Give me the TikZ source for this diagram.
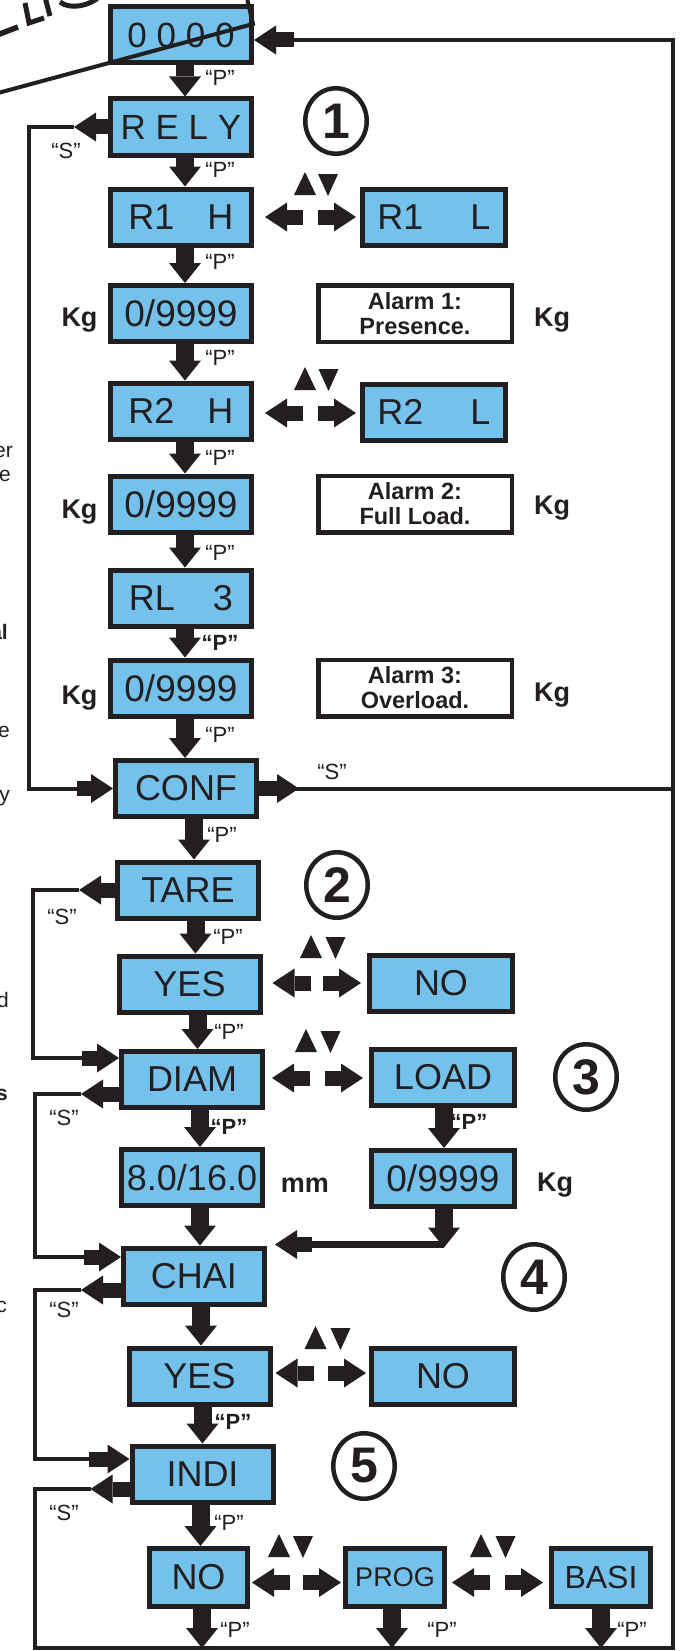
\documentclass[tikz,border=0pt]{standalone}
\usepackage{fontspec}
\setmainfont{Liberation Sans}
\usetikzlibrary{arrows.meta,calc,shapes.geometric}
\definecolor{lcd}{HTML}{74C2EC}
\definecolor{ink}{HTML}{231F20}
\newcommand\boxfont{\fontsize{36pt}{40pt}\selectfont}
\newcommand\plbl{\fontsize{22pt}{24pt}\selectfont}
\newcommand\darr[3][4]{\draw[varrow] ($(#2.south)+(#1,0)$) -- ($(#2.south |- #3.north)+(#1,0)$);}
\newcommand\dblarr[5]{%
  \draw[harrow] ($(#1.east)+(#3+38,#5)$) -- ($(#1.east)+(#3,#5)$);
  \draw[harrow] ($(#2.west |- #1.east)+(-#4-38,#5)$) -- ($(#2.west |- #1.east)+(-#4,#5)$);}
\newcommand\updn[3]{%
  \fill[ink] (#1-11,#3) -- (#1+11,#3) -- (#1,#3-23) -- cycle;
  \fill[ink] (#2-10,#3-21) -- (#2+10,#3-21) -- (#2,#3+1) -- cycle;}
\tikzset{
  lcdbox/.style={draw=ink, line width=5pt, fill=lcd, minimum width=141pt, minimum height=56pt, inner sep=0pt, text=ink, font=\boxfont},
  alarmbox/.style={draw=ink, line width=4.5pt, fill=white, minimum width=193.5pt, minimum height=56.5pt, inner sep=0pt, text=ink, align=center, font=\fontsize{23.5pt}{25pt}\selectfont\bfseries},
  varrow/.style={draw=ink, line width=18pt, -{Triangle[width=32pt,length=20pt,line width=0pt,fill=ink]}},
  harrow/.style={draw=ink, line width=15pt, -{Triangle[width=29pt,length=22pt,line width=0pt,fill=ink]}},
  conn/.style={draw=ink, line width=4pt},
  plabel/.style={text=ink, inner sep=0pt, font=\plbl},
  bplabel/.style={text=ink, inner sep=0pt, font=\plbl\bfseries},
  unitlbl/.style={text=ink, inner sep=0pt, font=\fontsize{27pt}{30pt}\selectfont\bfseries},
  numcirc/.style={draw=ink, ellipse, line width=4.5pt, minimum width=61.5pt, minimum height=65.5pt, inner sep=0pt, text=ink, font=\fontsize{50pt}{52pt}\selectfont\bfseries},
  frag/.style={text=ink, inner sep=0pt, font=\fontsize{21pt}{24pt}\selectfont, anchor=base east},
  bfrag/.style={frag, font=\fontsize{21pt}{24pt}\selectfont\bfseries},
}
\begin{document}
\begin{tikzpicture}[x=1pt,y=-1pt]
\useasboundingbox (0,0) rectangle (683,1651);
\clip (0,0) rectangle (683,1651);
\fill[white] (0,0) rectangle (683,1651);

% ---- boxes
\node[lcdbox, font=\fontsize{35pt}{40pt}\selectfont] (n0000) at (181,35) {0 0 0 0};
\node[lcdbox, font=\fontsize{35pt}{40pt}\selectfont] (rely) at (181,127) {R E L Y};
\node[lcdbox] (r1h) at (181,217) {R1\hspace{33pt}H};
\node[lcdbox, minimum width=143pt] (r1l) at (434,217) {R1\hspace{47pt}L};
\node[lcdbox, font=\fontsize{37pt}{40pt}\selectfont] (k1) at (181,313.5) {0/9999};
\node[alarmbox] (al1) at (415,313.5) {Alarm 1:\\Presence.};
\node[lcdbox] (r2h) at (181,411) {R2\hspace{33pt}H};
\node[lcdbox, minimum width=143pt] (r2l) at (434,412) {R2\hspace{47pt}L};
\node[lcdbox, font=\fontsize{37pt}{40pt}\selectfont] (k2) at (181,504) {0/9999};
\node[alarmbox] (al2) at (415,504) {Alarm 2:\\Full Load.};
\node[lcdbox] (rl3) at (181,598) {RL\hspace{38pt}3};
\node[lcdbox, font=\fontsize{37pt}{40pt}\selectfont] (k3) at (181,688) {0/9999};
\node[alarmbox] (al3) at (415,688) {Alarm 3:\\Overload.};
\node[lcdbox] (conf) at (186,788.5) {CONF};
\node[lcdbox] (tare) at (188,890) {TARE};
\node[lcdbox] (yes1) at (189.5,984) {YES};
\node[lcdbox, minimum width=143pt] (no1) at (441,983) {NO};
\node[lcdbox] (diam) at (192,1079.5) {DIAM};
\node[lcdbox, minimum width=143pt] (load) at (443,1077) {LOAD};
\node[lcdbox] (mm) at (192,1177.5) {8.0/16.0};
\node[lcdbox, minimum width=143pt, font=\fontsize{37pt}{40pt}\selectfont] (kgr) at (443,1178.5) {0/9999};
\node[lcdbox] (chai) at (194,1276) {CHAI};
\node[lcdbox] (yes2) at (199.5,1376) {YES};
\node[lcdbox, minimum width=143pt] (no2) at (443,1376) {NO};
\node[lcdbox] (indi) at (202.5,1474) {INDI};
\node[lcdbox, minimum width=98pt, minimum height=58pt] (no3) at (198.5,1577.5) {NO};
\node[lcdbox, minimum width=99pt, minimum height=58pt, font=\fontsize{27pt}{30pt}\selectfont] (prog) at (395,1577.5) {PROG};
\node[lcdbox, minimum width=99pt, minimum height=58pt, font=\fontsize{32pt}{36pt}\selectfont] (basi) at (601,1577.5) {BASI};

% ---- corner coordinates of the return loop
\coordinate (botleft) at (35,1648);
\coordinate (botright) at (673,1648);
\coordinate (topright) at (673,40);

% ---- thin return lines
\draw[conn] ($(rely.west)+(-34,0)$) -- ++(-45,0) |- ($(conf.west)+(-36,0)$);
\draw[conn] ($(tare.west)+(-36,0)$) -- ++(-46,0) |- ($(diam.west)+(-37,-21.5)$);
\draw[conn] ($(diam.west)+(-38,14.5)$) -- ++(-46,0) |- ($(chai.west)+(-37,-19)$);
\draw[conn] ($(chai.west)+(-40,14)$) -- ++(-46,0) |- ($(indi.west)+(-41,-15)$);
\draw[conn] ($(indi.west)+(-39,15)$) -| (botleft) -- (botright) -- (topright) -- ($(n0000.east)+(40,5)$);
\draw[conn] ($(conf.east)+(36,0)$) -- (conf.east -| topright);

% ---- "S" arrows
\draw[harrow] (rely.west) -- ++(-34,0);
\draw[harrow] ($(conf.west)+(-36,0)$) -- (conf.west);
\draw[harrow] (conf.east) -- ++(40,0);
\draw[harrow] (tare.west) -- ++(-36,0);
\draw[harrow] ($(diam.west)+(-37,-21.5)$) -- ($(diam.west)+(0,-21.5)$);
\draw[harrow] ($(diam.west)+(0,14.5)$) -- ++(-38,0);
\draw[harrow] ($(chai.west)+(-37,-19)$) -- ($(chai.west)+(0,-19)$);
\draw[harrow] ($(chai.west)+(0,14)$) -- ++(-40,0);
\draw[harrow] ($(indi.west)+(-41,-15)$) -- ($(indi.west)+(0,-15)$);
\draw[harrow] ($(indi.west)+(0,15)$) -- ++(-39,0);
\draw[harrow] ($(n0000.east)+(40,5)$) -- ($(n0000.east)+(0,5)$);

% ---- "P" arrows
\darr{n0000}{rely}
\darr{rely}{r1h}
\darr{r1h}{k1}
\darr{k1}{r2h}
\darr{r2h}{k2}
\darr{k2}{rl3}
\darr{rl3}{k3}
\darr{k3}{conf}
\darr[8]{conf}{tare}
\darr[7.5]{tare}{yes1}
\darr[8]{yes1}{diam}
\darr[8]{diam}{mm}
\darr[1]{load}{kgr}
\darr[8]{mm}{chai}
\darr[7]{chai}{yes2}
\darr[3]{yes2}{indi}
\darr[-2]{indi}{no3}
\draw[varrow] ($(no3.south)+(3.5,0)$) -- ($(no3.south |- botleft)+(3.5,0)$);
\draw[varrow] ($(prog.south)+(-3,0)$) -- ($(prog.south |- botleft)+(-3,0)$);
\draw[varrow] (basi.south) -- (basi.south |- botleft);

% ---- LOAD branch back to CHAI
\coordinate (kc) at ($(kgr.south)+(1,35.5)$);
\draw[ink, line width=7pt] (kc) -- ($(chai.east |- kc)+(38,0)$);
\draw[harrow] ($(chai.east |- kc)+(45,0)$) -- ($(chai.east |- kc)+(8,0)$);
\draw[varrow] ($(kgr.south)+(1,0)$) -- ($(kc)+(0,3)$);

% ---- up/down selector arrows
\dblarr{r1h}{r1l}{11}{4}{0}
\dblarr{r2h}{r2l}{11}{4}{2}
\dblarr{yes1}{no1}{10}{6}{-1}
\dblarr{diam}{load}{7}{6}{-1.5}
\dblarr{yes2}{no2}{3}{3}{-3}
\dblarr{no3}{prog}{2}{2}{5}
\dblarr{prog}{basi}{5}{6}{5}
\updn{305}{328}{195}
\updn{305}{328.5}{390}
\updn{311}{335.5}{958}
\updn{306}{330.5}{1052}
\updn{315.5}{340.5}{1349}
\updn{279}{303}{1557}
\updn{481}{505.5}{1557}

% ---- circled numbers
\node[numcirc] (c1) at (336,121) {1};
\node[numcirc] (c2) at (337,885) {2};
\node[numcirc] (c3) at (586,1077) {3};
\node[numcirc] (c4) at (534,1277) {4};
\node[numcirc] (c5) at (364,1466) {5};

% ---- units
\node[unitlbl] (u1) at (79.5,320) {Kg};
\node[unitlbl] (u2) at (79.5,512) {Kg};
\node[unitlbl] (u3) at (79.5,698) {Kg};
\node[unitlbl] (u4) at (552,320) {Kg};
\node[unitlbl] (u5) at (552,508) {Kg};
\node[unitlbl] (u6) at (552,695) {Kg};
\node[unitlbl] (u7) at (305,1185) {mm};
\node[unitlbl] (u8) at (555,1185) {Kg};

% ---- key labels
\node[plabel] (p1) at (220,78) {“P”};
\node[plabel] (p2) at (220,170) {“P”};
\node[plabel] (p3) at (220,262) {“P”};
\node[plabel] (p4) at (220,358) {“P”};
\node[plabel] (p5) at (220,458) {“P”};
\node[plabel] (p6) at (220,553) {“P”};
\node[bplabel] (p7) at (220,643) {“P”};
\node[plabel] (p8) at (220,735) {“P”};
\node[plabel] (p9) at (222,835) {“P”};
\node[plabel] (p10) at (228,937) {“P”};
\node[plabel] (p11) at (229,1032) {“P”};
\node[bplabel] (p12) at (229,1127) {“P”};
\node[bplabel] (p13) at (469,1122) {“P”};
\node[bplabel] (p14) at (233,1422) {“P”};
\node[plabel] (p15) at (229,1523) {“P”};
\node[plabel] (p16) at (235,1630) {“P”};
\node[plabel] (p17) at (442,1630) {“P”};
\node[plabel] (p18) at (632,1630) {“P”};
\node[plabel] (s1) at (66,151) {“S”};
\node[plabel] (s2) at (332,772) {“S”};
\node[plabel] (s3) at (62,917) {“S”};
\node[plabel] (s4) at (64,1118) {“S”};
\node[plabel] (s5) at (64,1310) {“S”};
\node[plabel] (s6) at (64,1513) {“S”};

% ---- cut-off text at the left edge
\node[frag] (f1) at (13,457) {er};
\node[frag] (f2) at (11,481) {ne};
\node[bfrag] (f3) at (8,639) {al};
\node[frag] (f4) at (10,737) {e};
\node[frag] (f5) at (10,801) {y};
\node[frag] (f6) at (9,1007) {d};
\node[bfrag] (f7) at (8,1100) {s};
\node[frag] (f8) at (7,1312) {c};

% ---- cut-off stamp at the top left
\draw[ink, line width=5.5pt] (-3,35) -- (18,27);
\draw[ink, line width=5pt] (25,3) -- (29,23) -- (44,18);
\draw[ink, line width=5pt] (45,-3) -- (50,16);
\draw[ink, line width=5pt] (60,2) .. controls (70,10) and (90,6) .. (100,-4);
\draw[ink, line width=4pt] (-2,93) -- (253,24) -- (247,-2);
\end{tikzpicture}
\end{document}
